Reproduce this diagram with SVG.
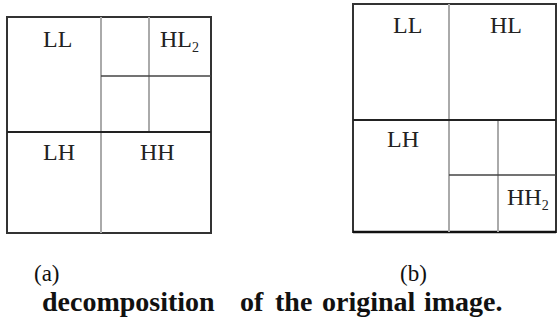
<svg xmlns="http://www.w3.org/2000/svg" width="560" height="333" viewBox="0 0 560 333">
<style>
.lbl{font-family:"Liberation Serif","DejaVu Serif",serif;font-size:24px;fill:#222}
.sub{font-size:14px}
.cap{font-family:"Liberation Serif","DejaVu Serif",serif;font-size:23px;fill:#111}
.capb{font-family:"Liberation Serif","DejaVu Serif",serif;font-size:28px;font-weight:bold;fill:#111}
.outer{fill:none;stroke:#333;stroke-width:2}
.dark{stroke:#222;stroke-width:2}
.mid{stroke:#444;stroke-width:1.5}
.grey{stroke:#aaa;stroke-width:2}
</style>
<rect width="560" height="333" fill="#fff"/>
<g id="panel-a">
<rect class="outer" x="7" y="17" width="204" height="216"/>
<line class="grey" x1="101" y1="17" x2="101" y2="233"/>
<line class="grey" x1="149" y1="17" x2="149" y2="132"/>
<line class="mid" x1="101" y1="76" x2="211" y2="76"/>
<line class="dark" x1="7" y1="132" x2="211" y2="132"/>
<text class="lbl" x="43" y="47">LL</text>
<text class="lbl" x="160" y="47">HL<tspan class="sub" dy="5">2</tspan></text>
<text class="lbl" x="43" y="160">LH</text>
<text class="lbl" x="140" y="160">HH</text>
</g>
<g id="panel-b">
<rect class="outer" x="353" y="4" width="203" height="228"/>
<line x1="353" y1="232" x2="556" y2="232" stroke="#111" stroke-width="2.5"/>
<line class="grey" x1="449" y1="4" x2="449" y2="232"/>
<line class="grey" x1="498" y1="120" x2="498" y2="232"/>
<line class="dark" x1="353" y1="120" x2="556" y2="120"/>
<line class="mid" x1="449" y1="175" x2="556" y2="175"/>
<text class="lbl" x="393" y="33">LL</text>
<text class="lbl" x="490" y="33">HL</text>
<text class="lbl" x="387" y="147">LH</text>
<text class="lbl" x="507" y="205">HH<tspan class="sub" dy="5">2</tspan></text>
</g>
<g id="captions">
<text class="cap" x="34" y="281">(a)</text>
<text class="cap" x="400" y="281">(b)</text>
<text class="capb" y="311"><tspan x="42">decomposition</tspan><tspan x="240">of</tspan><tspan x="275">the</tspan><tspan x="322">original</tspan><tspan x="424">image.</tspan></text>
</g>
</svg>
